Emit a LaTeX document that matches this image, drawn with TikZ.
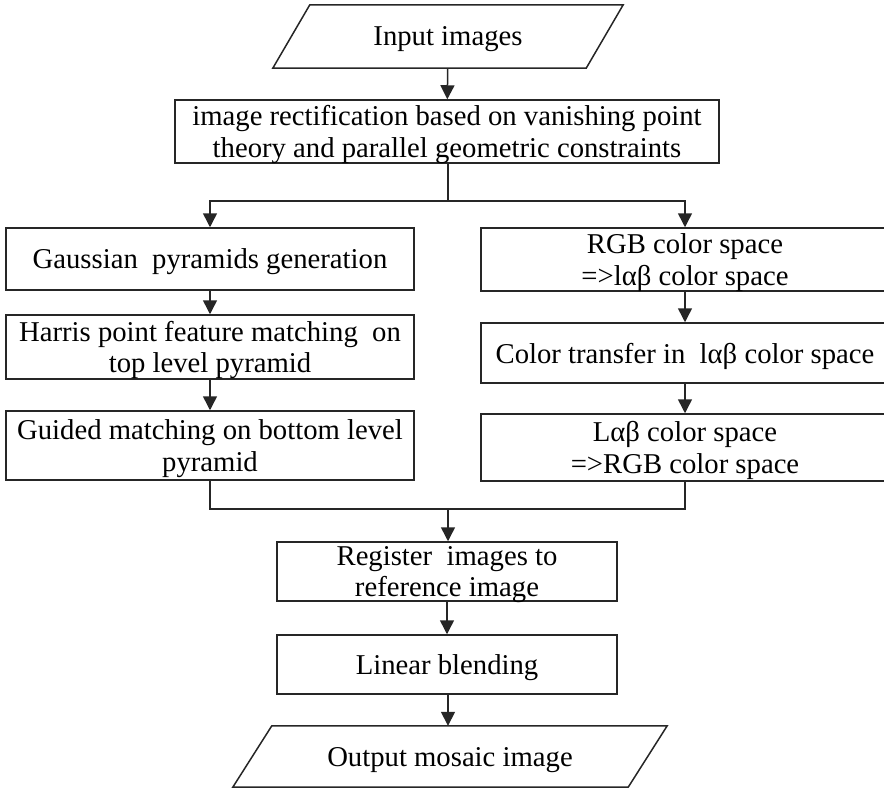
\documentclass[tikz,border=0pt]{standalone}
\usepackage{fontspec}
\setmainfont{Liberation Serif}
\usetikzlibrary{arrows.meta,calc}

\tikzset{
  x=1pt, y=-1pt,
  every node/.style={font=\fontsize{28.7}{31.5}\selectfont, text=black, align=center,
                     inner sep=0pt, text depth=0pt},
  procbox/.style={draw=black!85, line width=1.5pt, rectangle},
  iobox/.style={rectangle, draw=none},
  link/.style={draw=black!85, line width=1.5pt},
  flow/.style={link, -{Triangle[width=14pt,length=14pt]}},
}

\begin{document}
\begin{tikzpicture}
  \useasboundingbox (0,0) rectangle (884,789);

  % input / output (parallelograms drawn around text nodes)
  \node[iobox, minimum width=313pt, minimum height=63pt] (in) at (448,36.5) {Input images};
  \draw[link] ($(in.north west)+(18.5,0)$) -- ($(in.north east)+(18.5,0)$)
              -- ($(in.south east)+(-18.5,0)$) -- ($(in.south west)+(-18.5,0)$) -- cycle;

  \node[iobox, minimum width=395pt, minimum height=61pt] (out) at (450,756.5) {Output mosaic image};
  \draw[link] ($(out.north west)+(19.5,0)$) -- ($(out.north east)+(19.5,0)$)
              -- ($(out.south east)+(-19.5,0)$) -- ($(out.south west)+(-19.5,0)$) -- cycle;

  % processing steps
  \node[procbox, minimum width=544pt, minimum height=63pt] (rect) at (447,131.5)
    {image rectification based on vanishing point\\theory and parallel geometric constraints};

  \node[procbox, minimum width=408pt, minimum height=62pt] (gauss) at (210,259)
    {Gaussian\ \ pyramids generation};
  \node[procbox, minimum width=408pt, minimum height=64pt] (harris) at (210,347)
    {Harris point feature matching\ \ on\\top level pyramid};
  \node[procbox, minimum width=408pt, minimum height=69pt] (guided) at (210,445.5)
    {Guided matching on bottom level\\pyramid};

  \node[procbox, minimum width=408pt, minimum height=63pt] (rgb) at (685,259.5)
    {RGB color space\\=>lαβ color space};
  \node[procbox, minimum width=408pt, minimum height=60pt] (transfer) at (685,353)
    {Color transfer in\ \ lαβ color space};
  \node[procbox, minimum width=408pt, minimum height=67pt] (lab) at (685,447.5)
    {Lαβ color space\\=>RGB color space};

  \node[procbox, minimum width=340pt, minimum height=59pt] (reg) at (447,571.5)
    {Register\ \ images to\\reference image};
  \node[procbox, minimum width=340pt, minimum height=59pt] (blend) at (447,664.5)
    {Linear blending};

  % branching and joining points
  \coordinate (split) at (448,201);
  \coordinate (merge) at (448,509);

  % connectors
  \draw[flow] (in) -- (rect);
  \draw[link] (rect.south -| split) -- (split);
  \draw[flow] (split) -| (gauss);
  \draw[flow] (split) -| (rgb);
  \draw[flow] (gauss) -- (harris);
  \draw[flow] (harris) -- (guided);
  \draw[flow] (rgb) -- (transfer);
  \draw[flow] (transfer) -- (lab);
  \draw[link] (guided) |- (merge);
  \draw[link] (lab) |- (merge);
  \draw[flow] (merge) -- (merge |- reg.north);
  \draw[flow] (reg) -- (blend);
  \draw[flow] (blend.south -| merge) -- (merge |- out.north);
\end{tikzpicture}
\end{document}
